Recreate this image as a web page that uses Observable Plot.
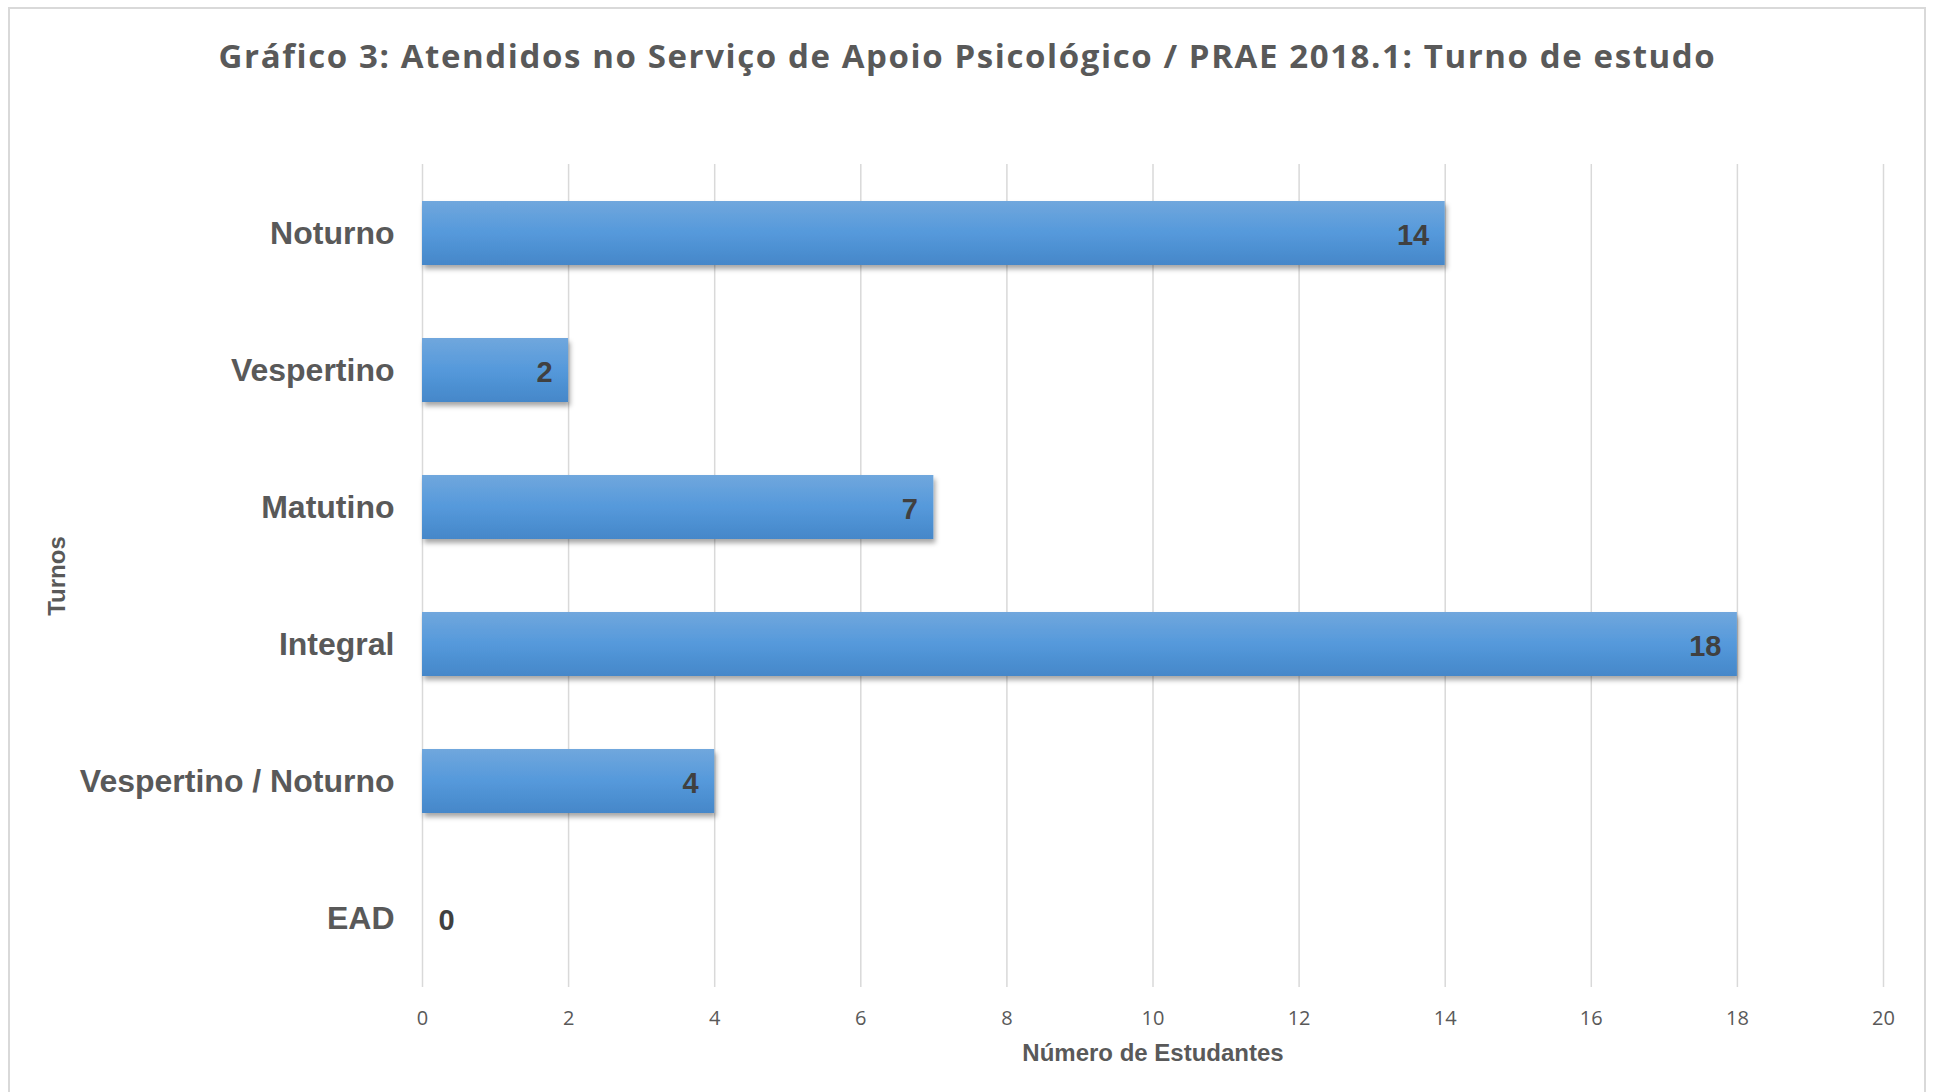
<!DOCTYPE html>
<html>
<head>
<meta charset="utf-8">
<script src="https://cdn.jsdelivr.net/npm/d3@7"></script>
<script src="https://cdn.jsdelivr.net/npm/@observablehq/plot@0.6"></script>
<style>
  html, body { margin: 0; padding: 0; background: #fff; }
  #wrap { position: relative; width: 1935px; height: 1092px; overflow: hidden; background: #fff; }
  #frame { position: absolute; left: 8px; top: 7px; width: 1918px; height: 1200px; border: 2px solid #d9d9d9; box-sizing: border-box; pointer-events: none; }
  #title { position: relative; height: 112px; line-height: 112px; text-align: center; font-family: "Open Sans", sans-serif; font-weight: 700; font-size: 33px; letter-spacing: 1.6px; color: #595959; white-space: nowrap; }
  #chart svg { display: block; }
</style>
</head>
<body>
<div id="wrap">
  <div id="frame"></div>
  <div id="title">Gráfico 3: Atendidos no Serviço de Apoio Psicológico / PRAE 2018.1: Turno de estudo</div>
  <div id="chart"></div>
</div>
<script>
// ---- data ----
const categories = ["Noturno", "Vespertino", "Matutino", "Integral", "Vespertino / Noturno", "EAD"];
const values = [14, 2, 7, 18, 4, 0];
const xTicks = [0, 2, 4, 6, 8, 10, 12, 14, 16, 18, 20];
const xLabel = "Número de Estudantes";
const yLabel = "Turnos";

const rows = categories.map((c, i) => ({turno: c, n: values[i]}));

const defs = () => {
  const g = d3.create("svg:defs");
  const grad = g.append("linearGradient").attr("id", "barGrad")
    .attr("x1", 0).attr("y1", 0).attr("x2", 0).attr("y2", 1);
  grad.append("stop").attr("offset", "0%").attr("stop-color", "#70a7dd");
  grad.append("stop").attr("offset", "50%").attr("stop-color", "#5599db");
  grad.append("stop").attr("offset", "100%").attr("stop-color", "#4587c9");
  const f = g.append("filter").attr("id", "barShadow")
    .attr("x", "-5%").attr("y", "-20%").attr("width", "115%").attr("height", "160%");
  f.append("feDropShadow").attr("dx", 2).attr("dy", 4).attr("stdDeviation", 2.5)
    .attr("flood-color", "#000").attr("flood-opacity", 0.35);
  return g.node();
};

const labelFont = "Liberation Sans, Arial, sans-serif";

const chart = Plot.plot({
  width: 1935,
  height: 980,
  marginTop: 52,
  marginBottom: 105,
  marginLeft: 422,
  marginRight: 52,
  style: { background: "transparent", overflow: "visible" },
  x: { domain: [0, 20] },
  y: { domain: categories, paddingInner: 0.53, paddingOuter: 0.265 },
  marks: [
    defs,
    Plot.gridX({ ticks: xTicks, stroke: "#d9d9d9", strokeOpacity: 1, strokeWidth: 1.5 }),
    Plot.barX(rows, { x: "n", y: "turno", fill: "url(#barGrad)" }),
    Plot.text(rows.filter(d => d.n > 0), {
      x: "n", y: "turno", text: d => String(d.n), textAnchor: "end", dx: -16, dy: 2,
      fontSize: 29, fontWeight: "bold", fill: "#404040", fontFamily: labelFont
    }),
    Plot.text(rows.filter(d => d.n === 0), {
      x: "n", y: "turno", text: d => String(d.n), textAnchor: "start", dx: 16, dy: 2,
      fontSize: 29, fontWeight: "bold", fill: "#404040", fontFamily: labelFont
    }),
    Plot.axisX({ ticks: xTicks, tickSize: 0, tickPadding: 23, fontSize: 20, fill: "#595959",
      fontFamily: "Open Sans, sans-serif", label: null }),
    Plot.axisY({ tickSize: 0, tickPadding: 28, fontSize: 32, fontWeight: "bold", fill: "#595959",
      fontFamily: labelFont, label: null }),
    Plot.text([xLabel], { frameAnchor: "bottom", dy: 66, lineAnchor: "middle", textAnchor: "middle",
      text: d => d, fontSize: 24, fontWeight: "bold", fill: "#595959", fontFamily: labelFont }),
    Plot.text([yLabel], { frameAnchor: "left", dx: -365, rotate: -90, textAnchor: "middle", lineAnchor: "middle",
      text: d => d, fontSize: 24, fontWeight: "bold", fill: "#595959", fontFamily: labelFont })
  ]
});

d3.select(chart).selectAll('g[aria-label="bar"]').attr("filter", "url(#barShadow)");
document.getElementById("chart").appendChild(chart);
</script>
</body>
</html>
